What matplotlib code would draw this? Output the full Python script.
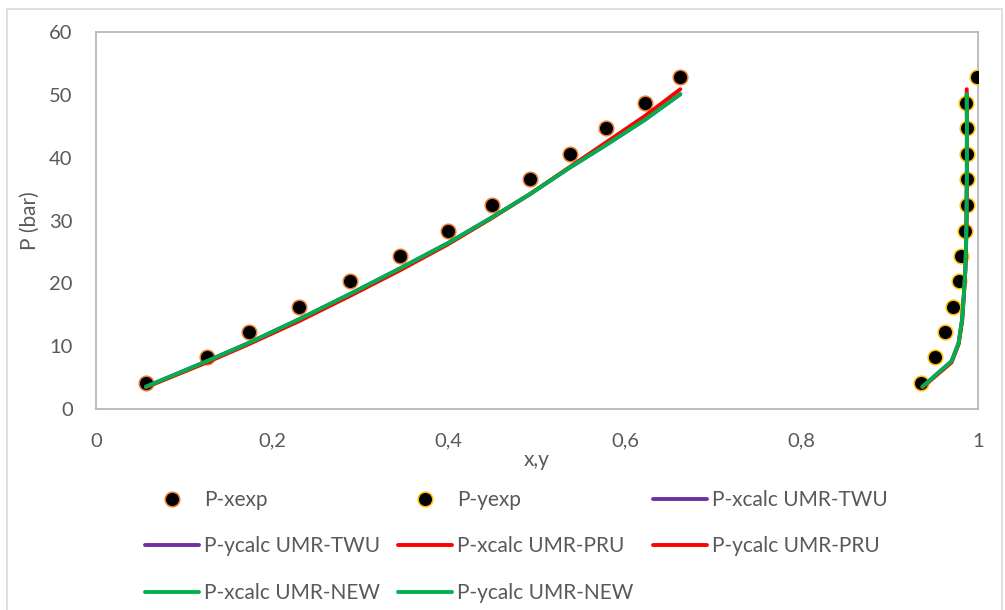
import matplotlib
matplotlib.use("Agg")
import matplotlib.pyplot as plt
from matplotlib.patches import Rectangle

plt.rcParams['font.family'] = ['Lato', 'DejaVu Sans']

# ---- data ----
x_exp = [0.0567, 0.1255, 0.173, 0.2305, 0.288, 0.345, 0.399, 0.449, 0.492, 0.537, 0.578, 0.622, 0.6625]
P_xexp = [4.1, 8.3, 12.3, 16.3, 20.3, 24.4, 28.4, 32.5, 36.6, 40.6, 44.7, 48.7, 52.8]

y_exp = [0.9357, 0.9517, 0.963, 0.972, 0.978, 0.981, 0.9856, 0.987, 0.988, 0.988, 0.988, 0.986, 0.9989]
P_yexp = [4.1, 8.3, 12.3, 16.3, 20.3, 24.4, 28.4, 32.5, 36.6, 40.6, 44.7, 48.7, 52.8]

x_calc = [0.0567, 0.1255, 0.173, 0.2305, 0.288, 0.345, 0.399, 0.449, 0.492, 0.537, 0.578, 0.622, 0.6625]
y_calc = [0.937, 0.970, 0.978, 0.982, 0.984, 0.9857, 0.9865, 0.987, 0.9872, 0.9874, 0.9874, 0.9874, 0.9872]

P_twu = [3.55, 7.6, 10.5, 14.3, 18.3, 22.4, 26.4, 30.5, 34.2, 38.4, 42.0, 46.0, 50.1]
P_pru = [3.45, 7.4, 10.3, 14.0, 18.0, 22.1, 26.2, 30.4, 34.2, 38.5, 42.4, 46.6, 50.9]
P_new = [3.55, 7.6, 10.5, 14.3, 18.3, 22.4, 26.4, 30.5, 34.2, 38.4, 42.0, 46.0, 50.1]

xticks = [0, 0.2, 0.4, 0.6, 0.8, 1.0]
xtick_labels = ["0", "0,2", "0,4", "0,6", "0,8", "1"]
yticks = [0, 10, 20, 30, 40, 50, 60]

W, H = 1005, 610
fig = plt.figure(figsize=(W / 100, H / 100), dpi=100)
ax = fig.add_axes([96 / W, 1 - 409 / H, (978 - 96) / W, (409 - 32) / H])

TXT = '#595959'
PURPLE, RED, GREEN = '#7030A0', '#FF0000', '#00B050'
FS_TICK = 14.5
FS = 15
lw = 2.8
ms = 10.5

h_xexp, = ax.plot(x_exp, P_xexp, linestyle='none', marker='o', markersize=ms,
                  markerfacecolor='black', markeredgecolor='#ED7D31', markeredgewidth=1.1, zorder=3,
                  label='P-xexp')
h_yexp, = ax.plot(y_exp, P_yexp, linestyle='none', marker='o', markersize=ms,
                  markerfacecolor='black', markeredgecolor='#FFC000', markeredgewidth=1.1, zorder=3,
                  label='P-yexp')
h1, = ax.plot(x_calc, P_twu, color=PURPLE, lw=lw, zorder=4, label='P-xcalc UMR-TWU', solid_capstyle='round')
h2, = ax.plot(y_calc, P_twu, color=PURPLE, lw=lw, zorder=4, label='P-ycalc UMR-TWU', solid_capstyle='round')
h3, = ax.plot(x_calc, P_pru, color=RED, lw=lw, zorder=5, label='P-xcalc UMR-PRU', solid_capstyle='round')
h4, = ax.plot(y_calc, P_pru, color=RED, lw=lw, zorder=5, label='P-ycalc UMR-PRU', solid_capstyle='round')
h5, = ax.plot(x_calc, P_new, color=GREEN, lw=lw, zorder=6, label='P-xcalc UMR-NEW', solid_capstyle='round')
h6, = ax.plot(y_calc, P_new, color=GREEN, lw=lw, zorder=6, label='P-ycalc UMR-NEW', solid_capstyle='round')

ax.set_xlim(0, 1)
ax.set_ylim(0, 60)
ax.set_xticks(xticks)
ax.set_xticklabels(xtick_labels)
ax.set_yticks(yticks)
for s in ax.spines.values():
    s.set_color('#b3b3b3')
    s.set_linewidth(1.2)
ax.tick_params(axis='both', length=0, labelsize=FS_TICK, colors=TXT)
ax.tick_params(axis='x', pad=17)
ax.tick_params(axis='y', pad=16.8)
ax.set_xlabel('x,y', fontsize=FS, color=TXT, labelpad=0)
ax.set_ylabel('P (bar)', fontsize=FS, color=TXT, labelpad=6.8)

# legend: three columns laid out row-wise like the original
cols = [[h_xexp, h2, h5], [h_yexp, h3, h6], [h1, h4]]
col_x = [145, 398, 653]
for hs, cx in zip(cols, col_x):
    leg = fig.legend(handles=hs, labels=[h.get_label() for h in hs], loc='upper left',
                     bbox_to_anchor=(cx / W, 1 - 490 / H), bbox_transform=fig.transFigure,
                     frameon=False, fontsize=FS, handlelength=2.59, handletextpad=0.24,
                     borderpad=0, borderaxespad=0, labelspacing=1.27, numpoints=1)
    for t in leg.get_texts():
        t.set_color(TXT)

# outer chart border
fig.add_artist(Rectangle((7 / W, -0.05), (1002 - 7) / W, 1 - 9 / H + 0.05, transform=fig.transFigure,
                         fill=False, edgecolor='#d9d9d9', linewidth=1.2))

fig.savefig('out.png', dpi=100)
